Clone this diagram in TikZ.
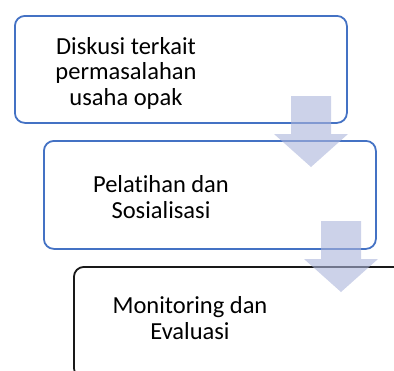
\documentclass[tikz,border=0pt]{standalone}
\usepackage{fontspec}
\setmainfont{Carlito}[Ligatures={NoCommon}]
\usetikzlibrary{positioning}

\definecolor{boxblue}{HTML}{4472C4}
\definecolor{arrowfill}{RGB}{170,180,218}

\tikzset{
	stepbox/.style={rectangle,rounded corners=10pt,line width=1.8pt,anchor=north west,minimum width=332pt},
	steptext/.style={align=center,font=\fontsize{24.5}{25.5}\selectfont},
	blockarrow/.style={fill=arrowfill,fill opacity=0.6,draw=none}
}

\begin{document}
\begin{tikzpicture}[x=1pt,y=-1pt]

\useasboundingbox (0,0) rectangle (394,370);
\clip (0,0) rectangle (394,370);

\node[stepbox,draw=boxblue,minimum height=107pt] (box1) at (14,15) {};
\node[stepbox,draw=boxblue,minimum height=108pt] (box2) at (43,140) {};
\node[stepbox,draw=black!90,minimum height=111pt] (box3) at (73,266) {};

\node[steptext] (txt1) at (126,73) {Diskusi terkait\\permasalahan\\usaha opak};
\node[steptext] (txt2) at (161,197) {Pelatihan dan\\Sosialisasi};
\node[steptext] (txt3) at (190,318) {Monitoring dan\\Evaluasi};

\draw[blockarrow] (291,96) -- ++(40,0) -- ++(0,38) -- ++(17,0) -- ++(-37,33) -- ++(-37,-33) -- ++(17,0) -- cycle;
\draw[blockarrow] (321,221) -- ++(40,0) -- ++(0,38) -- ++(17,0) -- ++(-37,33) -- ++(-37,-33) -- ++(17,0) -- cycle;

\end{tikzpicture}
\end{document}
